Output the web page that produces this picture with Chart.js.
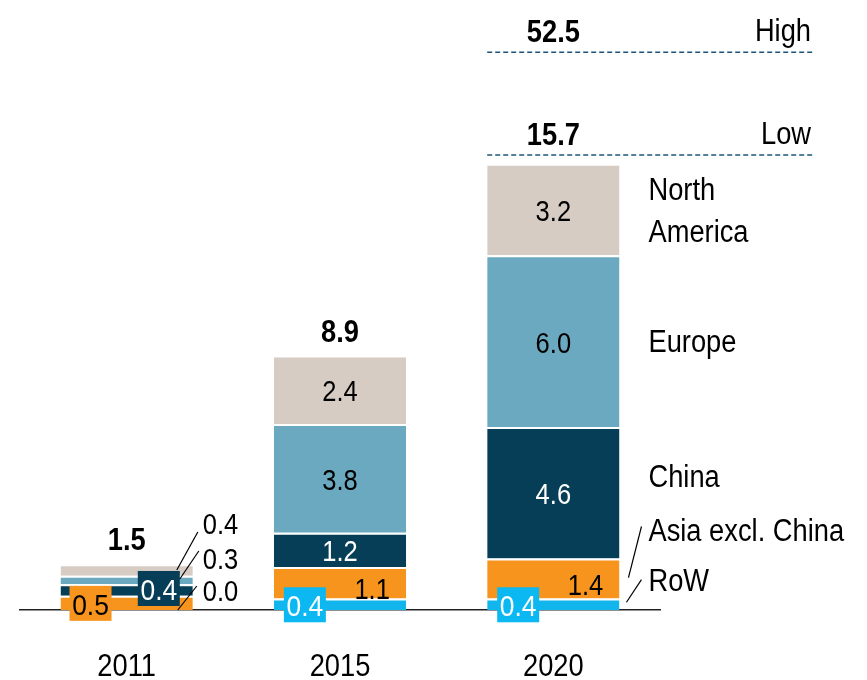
<!DOCTYPE html>
<html>
<head>
<meta charset="utf-8">
<script src="https://cdn.jsdelivr.net/npm/chart.js@4"></script>
<style>
  html, body { margin: 0; padding: 0; background: #fff; }
  #wrap { width: 867px; height: 680px; }
</style>
</head>
<body>
<div id="wrap"><canvas id="chart" width="867" height="680"></canvas></div>
<script>
// ---- Data ----
const years        = ["2011", "2015", "2020"];
const seriesNames  = ["RoW", "Asia excl. China", "China", "Europe", "North America"];
const row          = [0.0, 0.4, 0.4];
const asia         = [0.5, 1.1, 1.4];
const china        = [0.4, 1.2, 4.6];
const europe       = [0.3, 3.8, 6.0];
const northAmerica = [0.4, 2.4, 3.2];
const totals       = [1.5, 8.9, 15.7];
const lowCase  = 15.7;
const highCase = 52.5;
const highMarkAt = 19.5;   // broken axis: where the High line sits on the scale

const FONT = '"Liberation Sans", Arial, sans-serif';
const SQUEEZE = 0.88;      // narrow look, no Arial Narrow installed
const colors = ["#12b6ec", "#f7941d", "#053e56", "#6aa9bf", "#d6ccc4"];

const fmt = v => v.toFixed(1);

// ---- Annotations plugin ----
const annot = {
  id: "annot",
  afterDatasetsDraw(chart) {
    const ctx = chart.ctx;
    const xs = chart.scales.x, ys = chart.scales.y;
    const bar = (d, i) => chart.getDatasetMeta(d).data[i].getProps(["x", "y", "base", "width"], true);
    const mid = b => (b.y + b.base) / 2;
    // text centred vertically on its digits/caps at y
    const text = (s, x, y, opt) => {
      ctx.save();
      ctx.font = (opt.bold ? "bold " : "") + opt.size + "px " + FONT;
      ctx.fillStyle = opt.color || "#000";
      ctx.textAlign = opt.align || "center";
      ctx.textBaseline = "alphabetic";
      ctx.translate(x, y + opt.size * 0.36);
      ctx.scale(SQUEEZE, 1);
      ctx.fillText(s, 0, 0);
      ctx.restore();
    };
    const line = (x1, y1, x2, y2) => {
      ctx.beginPath(); ctx.moveTo(x1, y1); ctx.lineTo(x2, y2);
      ctx.strokeStyle = "#000"; ctx.lineWidth = 1.2; ctx.setLineDash([]); ctx.stroke();
    };
    const box = (s, cx, cy, bg) => {
      ctx.fillStyle = bg;
      ctx.fillRect(cx - 21, cy - 17, 42, 35);
      text(s, cx, cy + 1, { size: 30, color: bg === colors[1] ? "#000" : "#fff" });
    };

    const k = years.length - 1;
    years.forEach((yr, i) => {
      const bRow = bar(0, i), bAsia = bar(1, i), bChina = bar(2, i), bEu = bar(3, i), bNa = bar(4, i);
      const left = bRow.x - bRow.width / 2, right = bRow.x + bRow.width / 2;
      const data = chart.data.datasets;
      if (i === 0) {
        // tiny bar: boxed labels + leader lines to the side
        box(fmt(data[1].data[i]), left + 30, mid(bAsia), colors[1]);
        box(fmt(data[2].data[i]), right - 34, mid(bChina) - 2, colors[2]);
        const base = bRow.base;
        text(fmt(data[4].data[i]), right + 10, base - 86, { size: 29, align: "left" });
        text(fmt(data[3].data[i]), right + 10, base - 51, { size: 29, align: "left" });
        text(fmt(data[0].data[i]), right + 10, base - 19, { size: 29, align: "left" });
        line(right - 16, mid(bNa), right + 5, base - 78);
        line(right - 13, mid(bEu) - 1, right + 6, base - 59);
        line(right - 15, base, right + 4, base - 24);
      } else {
        text(fmt(data[4].data[i]), bNa.x, mid(bNa) + 1, { size: 29 });
        text(fmt(data[3].data[i]), bEu.x, mid(bEu) + 1, { size: 29 });
        text(fmt(data[2].data[i]), bChina.x, mid(bChina) + 1, { size: 29, color: "#fff" });
        text(fmt(data[1].data[i]), right - 34, mid(bAsia) + 6, { size: 29 });
        box(fmt(data[0].data[i]), left + 31, mid(bRow), "#0bb8f2");
      }
      if (i < k) text(fmt(totals[i]), bNa.x, bNa.y - 25, { size: 31, bold: true });
      // category label under the axis
      text(chart.data.labels[i], xs.getPixelForTick(i), xs.bottom + 55, { size: 31 });
    });

    // Low / High scenario lines over the 2020 bar
    const last = bar(4, k);
    const l = last.x - last.width / 2, r = 813;
    const lowY = ys.getPixelForValue(lowCase) - 6;
    const highY = ys.getPixelForValue(highMarkAt);
    [[lowY, lowCase, "Low"], [highY, highCase, "High"]].forEach(([yy, v, name]) => {
      ctx.beginPath(); ctx.moveTo(l, yy); ctx.lineTo(r, yy);
      ctx.strokeStyle = "#1d5577"; ctx.lineWidth = 1.5; ctx.setLineDash([5, 3]); ctx.stroke();
      ctx.setLineDash([]);
      text(fmt(v), last.x, yy - 21, { size: 31, bold: true });
      text(name, r - 2, yy - 22, { size: 31, align: "right" });
    });

    // series names at the right of the 2020 bar
    const rr = last.x + last.width / 2;
    const lx = rr + 29;
    const nb = bar(4, k), eb = bar(3, k), cb = bar(2, k), ab = bar(1, k), rb = bar(0, k);
    const [nFirst, nSecond] = seriesNames[4].split(" ");
    text(nFirst, lx, mid(nb) - 21, { size: 31, align: "left" });
    text(nSecond, lx, mid(nb) + 21, { size: 31, align: "left" });
    text(seriesNames[3], lx, mid(eb), { size: 31, align: "left" });
    text(seriesNames[2], lx, mid(cb) - 17, { size: 31, align: "left" });
    text(seriesNames[1], lx, ab.y - 29, { size: 31, align: "left" });
    text(seriesNames[0], lx, rb.y - 19, { size: 31, align: "left" });
    line(rr + 9, mid(ab) - 1, rr + 22, ab.y - 32);
    line(rr + 7, mid(rb) - 2, rr + 22, rb.y - 19);
  }
};

// ---- Chart ----
const sets = [row, asia, china, europe, northAmerica];
new Chart(document.getElementById("chart"), {
  type: "bar",
  data: {
    labels: years,
    datasets: sets.map((d, i) => ({
      label: seriesNames[i],
      data: d,
      backgroundColor: colors[i],
      borderColor: "#fff",
      borderWidth: { top: 2, left: 0, right: 0, bottom: 0 },
      borderSkipped: "start",
      barPercentage: 0.62,
      categoryPercentage: 1.0
    }))
  },
  options: {
    responsive: false,
    animation: false,
    layout: { padding: { left: 20, right: 207, top: 38, bottom: 70 } },
    plugins: { legend: { display: false }, tooltip: { enabled: false } },
    scales: {
      x: {
        stacked: true,
        grid: { display: false, drawTicks: false },
        border: { display: true, color: "#222", width: 1.5 },
        ticks: { display: false }
      },
      y: {
        stacked: true,
        display: false,
        min: 0,
        max: 20
      }
    }
  },
  plugins: [annot]
});
</script>
</body>
</html>
